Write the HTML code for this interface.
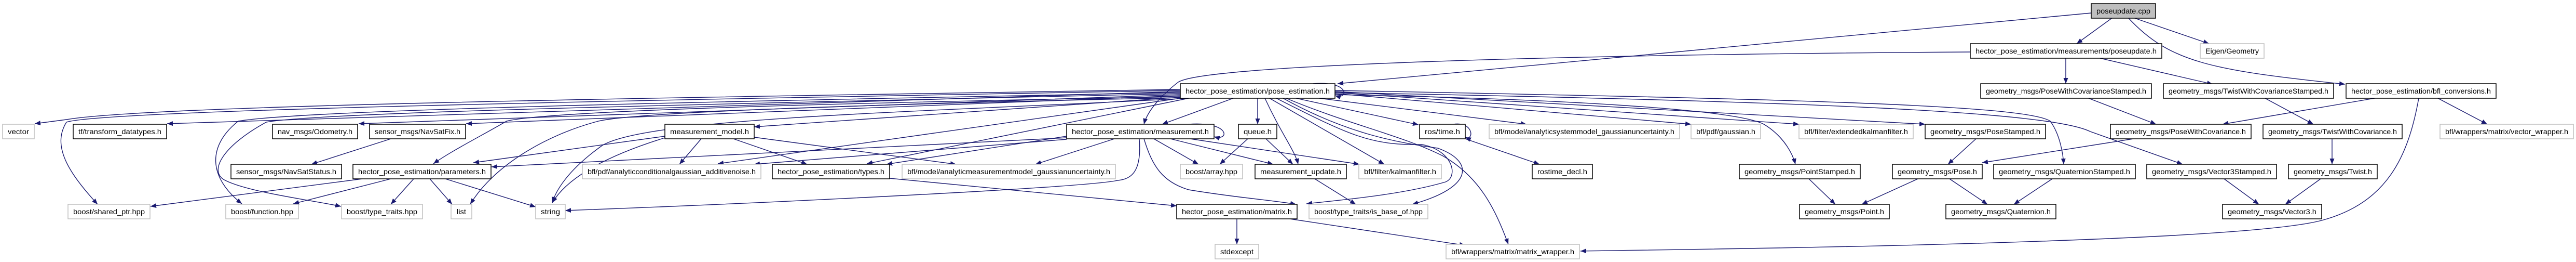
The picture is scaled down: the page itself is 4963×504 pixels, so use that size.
<!DOCTYPE html>
<html><head><meta charset="utf-8"><style>
html,body{margin:0;padding:0;background:#fff;}
svg{display:block;}
text{font-family:"Liberation Sans",sans-serif;font-size:14px;fill:#000;text-anchor:middle;}
.b{fill:#fff;stroke:#000;stroke-width:1.5;}
.g{fill:#fff;stroke:#bfbfbf;stroke-width:1.5;}
.e{fill:none;stroke:#191970;stroke-width:1.4;marker-end:url(#a);}
</style></head><body>
<svg width="4963" height="504" viewBox="0 0 4963 504" xmlns="http://www.w3.org/2000/svg">
<defs><marker id="a" markerUnits="userSpaceOnUse" markerWidth="12" markerHeight="9" refX="11" refY="4.5" orient="auto"><path d="M0,0 L11,4.5 L0,9 z" fill="#191970"/></marker></defs>
<g>
<path class="e" d="M4070,34 L4001,84"/>
<path class="e" d="M4110,34 L4256,84"/>
<path class="e" d="M4100,34 C4180,120 4260,135 4518,162"/>
<path class="e" d="M4029,25 L2577,161"/>
<path class="e" d="M3796,100 C3000,105 2320,125 2270,158 C2235,185 2210,215 2204,239"/>
<path class="e" d="M3980,112 L3980,161"/>
<path class="e" d="M4046,112 L4263,162"/>
<path class="e" d="M4024,189 L4154,239"/>
<path class="e" d="M4364,189 L4457,239"/>
<path class="e" d="M4575,189 L4282,239"/>
<path class="e" d="M4697,189 L4792,239"/>
<path class="e" d="M4660,189 C4640,300 4600,390 4473,424 C4300,470 3200,480 3045,483"/>
<path class="e" d="M4110,267 L3819,313"/>
<path class="e" d="M4493,267 L4493,316"/>
<path class="e" d="M4285,344 L4352,393"/>
<path class="e" d="M4471,344 L4403,393"/>
<path class="e" d="M3807,267 L3753,316"/>
<path class="e" d="M3485,344 L3536,393"/>
<path class="e" d="M3695,344 L3587,393"/>
<path class="e" d="M3756,344 L3829,393"/>
<path class="e" d="M3954,344 L3880,393"/>
<path class="e" d="M2530,161 C2600,155 2600,192 2572,184"/>
<path class="e" d="M2376,189 L2239,239"/>
<path class="e" d="M2423,189 L2423,239"/>
<path class="e" d="M2437,189 C2470,260 2495,290 2501,316"/>
<path class="e" d="M2446,189 L2667,316"/>
<path class="e" d="M2497,189 L2733,240"/>
<path class="e" d="M2542,189 L2941,239"/>
<path class="e" d="M2572,180 L3258,239"/>
<path class="e" d="M2572,178 L3466,239"/>
<path class="e" d="M2572,176 L3709,239"/>
<path class="e" d="M2572,182 C3000,190 3350,210 3400,240 C3440,265 3455,300 3459,316"/>
<path class="e" d="M2572,174 C3400,190 3900,200 3950,233 C3970,260 3975,300 3976,316"/>
<path class="e" d="M2572,178 C3500,195 3950,215 4027,253 L4205,316"/>
<path class="e" d="M2459,189 C2600,260 2640,280 2740,278 C2800,290 2810,340 2785,350 C2700,375 2580,385 2517,392"/>
<path class="e" d="M2472,189 C2600,260 2700,275 2770,285 C2840,310 2840,360 2721,393"/>
<path class="e" d="M2478,189 C2600,240 2700,260 2780,300 C2850,340 2880,400 2906,470"/>
<path class="e" d="M2204,267 C2220,320 2240,350 2290,365 C2380,380 2450,385 2497,393"/>
<path class="e" d="M2290,239 C2370,233 2370,272 2339,263"/>
<path class="e" d="M2147,267 L1995,316"/>
<path class="e" d="M2223,267 L2309,316"/>
<path class="e" d="M2255,267 L2453,316"/>
<path class="e" d="M2293,267 L2619,316"/>
<path class="e" d="M2195,267 C2200,330 2180,345 2153,347 C2100,360 1500,390 1089,405"/>
<path class="e" d="M2055,262 L1708,316"/>
<path class="e" d="M2055,268 L1453,316"/>
<path class="e" d="M2055,265 L947,321"/>
<path class="e" d="M2404,267 L2350,316"/>
<path class="e" d="M2439,267 L2491,316"/>
<path class="e" d="M2533,344 L2612,393"/>
<path class="e" d="M2383,421 L2383,470"/>
<path class="e" d="M2485,421 L2823,472"/>
<path class="e" d="M2800,239 C2840,233 2840,272 2823,264"/>
<path class="e" d="M2823,267 L2966,316"/>
<path class="e" d="M1714,343 L2267,396"/>
<path class="e" d="M1351,267 L1309,316"/>
<path class="e" d="M1413,267 L1555,316"/>
<path class="e" d="M1453,264 L1842,316"/>
<path class="e" d="M1281,265 C1200,290 1100,330 1064,390"/>
<path class="e" d="M1281,262 L912,313"/>
<path class="e" d="M698,344 L290,397"/>
<path class="e" d="M753,344 L565,392"/>
<path class="e" d="M797,344 L753,393"/>
<path class="e" d="M828,344 L871,393"/>
<path class="e" d="M858,344 L1032,398"/>
<path class="e" d="M753,267 L600,316"/>
<path class="e" d="M2274,172 C1500,185 300,200 128,230 L67,238"/>
<path class="e" d="M2274,174 C1400,190 200,210 128,235 C100,280 130,330 188,393"/>
<path class="e" d="M2274,176 L322,238"/>
<path class="e" d="M2274,178 C1400,195 600,210 459,233 C400,280 400,340 466,392"/>
<path class="e" d="M2274,180 C1400,200 620,215 513,235 C430,280 400,330 434,347 C480,370 600,385 657,397"/>
<path class="e" d="M2274,182 L691,238"/>
<path class="e" d="M2274,184 L898,238"/>
<path class="e" d="M2274,186 C1500,200 1050,215 976,233 C930,260 870,290 835,315"/>
<path class="e" d="M2274,188 C1700,200 1230,215 1153,233 C1050,260 950,320 906,393"/>
<path class="e" d="M2290,189 C1800,215 1250,225 1160,280 C1090,330 1070,370 1064,390"/>
<path class="e" d="M2274,187 L1453,244"/>
<path class="e" d="M2274,189 L1383,315"/>
<path class="e" d="M2290,189 L1670,315"/>
</g>
<g>
<rect x="4029" y="7" width="124" height="28" style="fill:#bfbfbf;stroke:#000;stroke-width:1.5"/><text x="4091" y="26" textLength="104" lengthAdjust="spacingAndGlyphs">poseupdate.cpp</text>
<rect class="b" x="3796" y="84" width="369" height="28"/><text x="3980.5" y="103" textLength="349" lengthAdjust="spacingAndGlyphs">hector_pose_estimation/measurements/poseupdate.h</text>
<rect class="g" x="4239" y="84" width="123" height="28"/><text x="4300.5" y="103" textLength="103" lengthAdjust="spacingAndGlyphs">Eigen/Geometry</text>
<rect class="b" x="2274" y="161" width="298" height="28"/><text x="2423" y="180" textLength="278" lengthAdjust="spacingAndGlyphs">hector_pose_estimation/pose_estimation.h</text>
<rect class="b" x="3816" y="161" width="329" height="28"/><text x="3980.5" y="180" textLength="309" lengthAdjust="spacingAndGlyphs">geometry_msgs/PoseWithCovarianceStamped.h</text>
<rect class="b" x="4168" y="161" width="328" height="28"/><text x="4332" y="180" textLength="308" lengthAdjust="spacingAndGlyphs">geometry_msgs/TwistWithCovarianceStamped.h</text>
<rect class="b" x="4520" y="161" width="289" height="28"/><text x="4664.5" y="180" textLength="269" lengthAdjust="spacingAndGlyphs">hector_pose_estimation/bfl_conversions.h</text>
<rect class="g" x="5" y="239" width="61" height="28"/><text x="35.5" y="258" textLength="41" lengthAdjust="spacingAndGlyphs">vector</text>
<rect class="b" x="141" y="239" width="180" height="28"/><text x="231" y="258" textLength="160" lengthAdjust="spacingAndGlyphs">tf/transform_datatypes.h</text>
<rect class="b" x="525" y="239" width="164" height="28"/><text x="607" y="258" textLength="144" lengthAdjust="spacingAndGlyphs">nav_msgs/Odometry.h</text>
<rect class="b" x="712" y="239" width="185" height="28"/><text x="804.5" y="258" textLength="165" lengthAdjust="spacingAndGlyphs">sensor_msgs/NavSatFix.h</text>
<rect class="b" x="1281" y="239" width="172" height="28"/><text x="1367" y="258" textLength="152" lengthAdjust="spacingAndGlyphs">measurement_model.h</text>
<rect class="b" x="2055" y="239" width="284" height="28"/><text x="2197" y="258" textLength="264" lengthAdjust="spacingAndGlyphs">hector_pose_estimation/measurement.h</text>
<rect class="b" x="2386" y="239" width="74" height="28"/><text x="2423" y="258" textLength="54" lengthAdjust="spacingAndGlyphs">queue.h</text>
<rect class="b" x="2735" y="239" width="88" height="28"/><text x="2779" y="258" textLength="68" lengthAdjust="spacingAndGlyphs">ros/time.h</text>
<rect class="g" x="2869" y="239" width="367" height="28"/><text x="3052.5" y="258" textLength="347" lengthAdjust="spacingAndGlyphs">bfl/model/analyticsystemmodel_gaussianuncertainty.h</text>
<rect class="g" x="3258" y="239" width="134" height="28"/><text x="3325" y="258" textLength="114" lengthAdjust="spacingAndGlyphs">bfl/pdf/gaussian.h</text>
<rect class="g" x="3466" y="239" width="220" height="28"/><text x="3576" y="258" textLength="200" lengthAdjust="spacingAndGlyphs">bfl/filter/extendedkalmanfilter.h</text>
<rect class="b" x="3709" y="239" width="232" height="28"/><text x="3825" y="258" textLength="212" lengthAdjust="spacingAndGlyphs">geometry_msgs/PoseStamped.h</text>
<rect class="b" x="4066" y="239" width="271" height="28"/><text x="4201.5" y="258" textLength="251" lengthAdjust="spacingAndGlyphs">geometry_msgs/PoseWithCovariance.h</text>
<rect class="b" x="4360" y="239" width="268" height="28"/><text x="4494" y="258" textLength="248" lengthAdjust="spacingAndGlyphs">geometry_msgs/TwistWithCovariance.h</text>
<rect class="g" x="4701" y="239" width="257" height="28"/><text x="4829.5" y="258" textLength="237" lengthAdjust="spacingAndGlyphs">bfl/wrappers/matrix/vector_wrapper.h</text>
<rect class="b" x="445" y="316" width="213" height="28"/><text x="551.5" y="335" textLength="193" lengthAdjust="spacingAndGlyphs">sensor_msgs/NavSatStatus.h</text>
<rect class="b" x="680" y="316" width="266" height="28"/><text x="813" y="335" textLength="246" lengthAdjust="spacingAndGlyphs">hector_pose_estimation/parameters.h</text>
<rect class="g" x="1122" y="316" width="344" height="28"/><text x="1294" y="335" textLength="324" lengthAdjust="spacingAndGlyphs">bfl/pdf/analyticconditionalgaussian_additivenoise.h</text>
<rect class="b" x="1488" y="316" width="226" height="28"/><text x="1601" y="335" textLength="206" lengthAdjust="spacingAndGlyphs">hector_pose_estimation/types.h</text>
<rect class="g" x="1738" y="316" width="411" height="28"/><text x="1943.5" y="335" textLength="391" lengthAdjust="spacingAndGlyphs">bfl/model/analyticmeasurementmodel_gaussianuncertainty.h</text>
<rect class="g" x="2274" y="316" width="120" height="28"/><text x="2334" y="335" textLength="100" lengthAdjust="spacingAndGlyphs">boost/array.hpp</text>
<rect class="b" x="2418" y="316" width="176" height="28"/><text x="2506" y="335" textLength="156" lengthAdjust="spacingAndGlyphs">measurement_update.h</text>
<rect class="g" x="2618" y="316" width="159" height="28"/><text x="2697.5" y="335" textLength="139" lengthAdjust="spacingAndGlyphs">bfl/filter/kalmanfilter.h</text>
<rect class="b" x="2952" y="316" width="116" height="28"/><text x="3010" y="335" textLength="96" lengthAdjust="spacingAndGlyphs">rostime_decl.h</text>
<rect class="b" x="3351" y="316" width="233" height="28"/><text x="3467.5" y="335" textLength="213" lengthAdjust="spacingAndGlyphs">geometry_msgs/PointStamped.h</text>
<rect class="b" x="3646" y="316" width="173" height="28"/><text x="3732.5" y="335" textLength="153" lengthAdjust="spacingAndGlyphs">geometry_msgs/Pose.h</text>
<rect class="b" x="3841" y="316" width="273" height="28"/><text x="3977.5" y="335" textLength="253" lengthAdjust="spacingAndGlyphs">geometry_msgs/QuaternionStamped.h</text>
<rect class="b" x="4136" y="316" width="250" height="28"/><text x="4261" y="335" textLength="230" lengthAdjust="spacingAndGlyphs">geometry_msgs/Vector3Stamped.h</text>
<rect class="b" x="4409" y="316" width="171" height="28"/><text x="4494.5" y="335" textLength="151" lengthAdjust="spacingAndGlyphs">geometry_msgs/Twist.h</text>
<rect class="g" x="131" y="393" width="158" height="28"/><text x="210" y="412" textLength="138" lengthAdjust="spacingAndGlyphs">boost/shared_ptr.hpp</text>
<rect class="g" x="435" y="393" width="140" height="28"/><text x="505" y="412" textLength="120" lengthAdjust="spacingAndGlyphs">boost/function.hpp</text>
<rect class="g" x="658" y="393" width="156" height="28"/><text x="736" y="412" textLength="136" lengthAdjust="spacingAndGlyphs">boost/type_traits.hpp</text>
<rect class="g" x="869" y="393" width="40" height="28"/><text x="889" y="412" textLength="18" lengthAdjust="spacingAndGlyphs">list</text>
<rect class="g" x="1032" y="393" width="57" height="28"/><text x="1060.5" y="412" textLength="37" lengthAdjust="spacingAndGlyphs">string</text>
<rect class="b" x="2267" y="393" width="232" height="28"/><text x="2383" y="412" textLength="212" lengthAdjust="spacingAndGlyphs">hector_pose_estimation/matrix.h</text>
<rect class="g" x="2522" y="393" width="229" height="28"/><text x="2636.5" y="412" textLength="209" lengthAdjust="spacingAndGlyphs">boost/type_traits/is_base_of.hpp</text>
<rect class="b" x="3467" y="393" width="173" height="28"/><text x="3553.5" y="412" textLength="153" lengthAdjust="spacingAndGlyphs">geometry_msgs/Point.h</text>
<rect class="b" x="3749" y="393" width="212" height="28"/><text x="3855" y="412" textLength="192" lengthAdjust="spacingAndGlyphs">geometry_msgs/Quaternion.h</text>
<rect class="b" x="4282" y="393" width="191" height="28"/><text x="4377.5" y="412" textLength="171" lengthAdjust="spacingAndGlyphs">geometry_msgs/Vector3.h</text>
<rect class="g" x="2341" y="470" width="84" height="28"/><text x="2383" y="489" textLength="64" lengthAdjust="spacingAndGlyphs">stdexcept</text>
<rect class="g" x="2786" y="470" width="257" height="28"/><text x="2914.5" y="489" textLength="237" lengthAdjust="spacingAndGlyphs">bfl/wrappers/matrix/matrix_wrapper.h</text>
</g>
</svg>
</body></html>
